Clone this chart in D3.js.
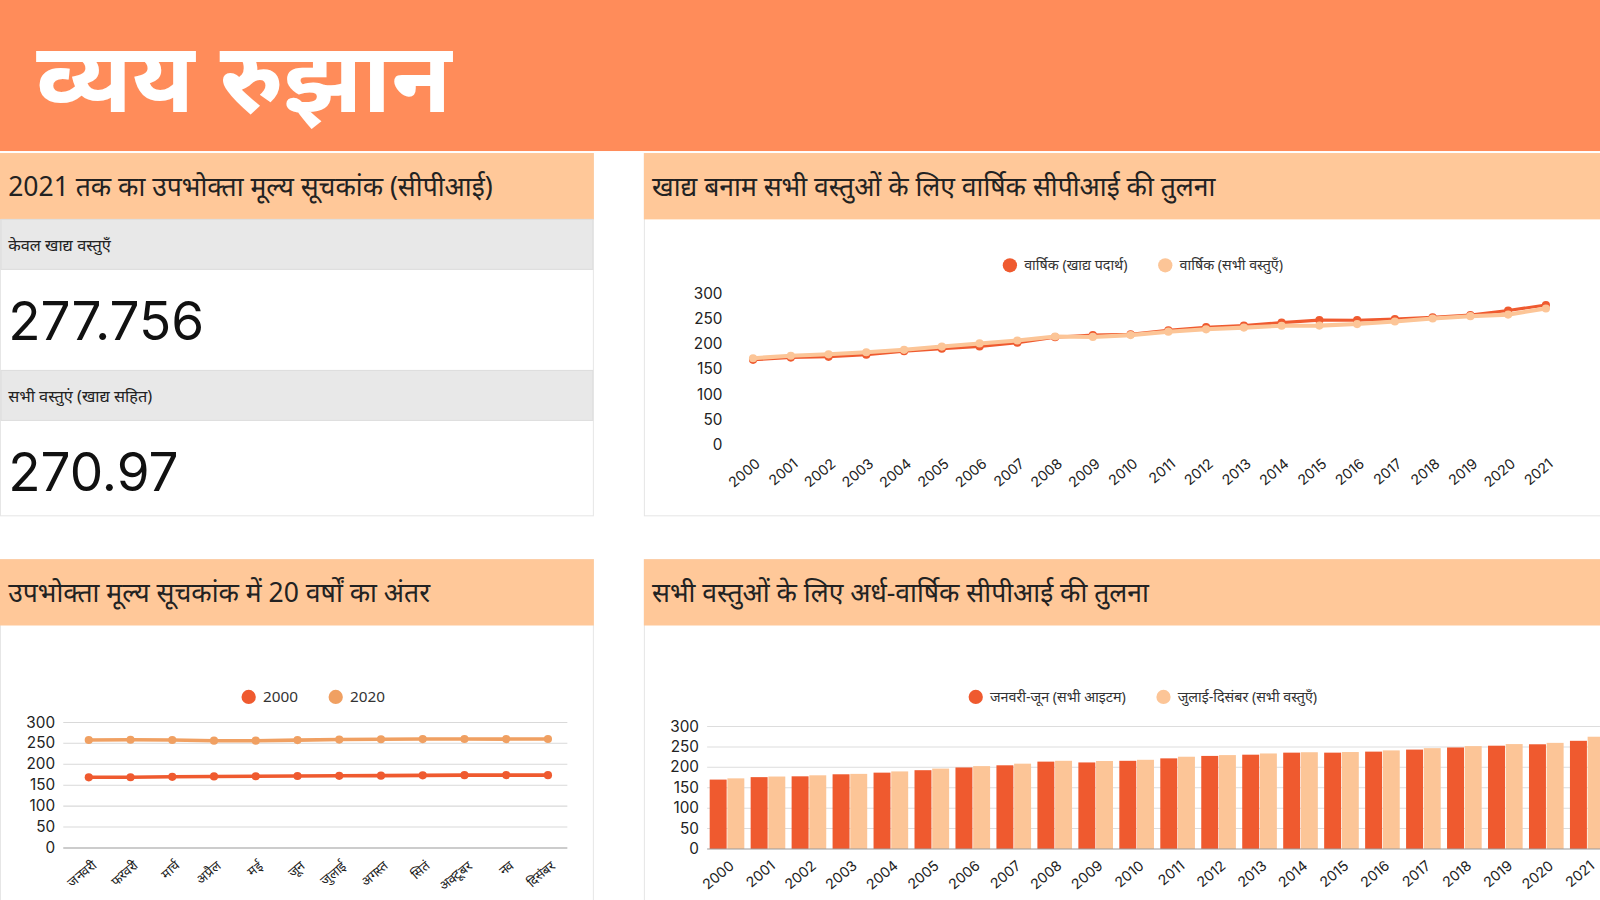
<!DOCTYPE html>
<html><head><meta charset="utf-8">
<script src="https://cdn.jsdelivr.net/npm/d3@7"></script>
<style>
body{margin:0;background:#fff;font-family:"Noto Sans",Inter,sans-serif;overflow:hidden}
svg{display:block}
</style></head>
<body><svg id="c" width="1600" height="900"></svg>
<script>
const years = d3.range(2000, 2022).map(String)
const foodAnnual = [169,173.5,175,179,186,191,195.5,202.9,214,218,219.6,227.8,233.8,237,242.9,247.8,247.7,250,253.5,258,267,277.8]
const allAnnual = [172.2,177.1,179.9,184,188.9,195.3,201.6,207.3,215.3,214.5,218.1,224.9,229.6,233,236.7,237,240,245.1,251.1,255.7,258.8,271]
const months = ["जनवरी","फरवरी","मार्च","अप्रैल","मई","जून","जुलाई","अगस्त","सितं","अक्टूबर","नव","दिसंबर"]
const m2000 = [168.8,169,170,171,171.3,172,172.4,172.8,173.5,174,174.1,174]
const m2020 = [258,258.7,258.1,256.4,256.4,257.8,259.1,259.9,260.3,260.4,260.2,260.5]
const halfJanJun = [170,176,178,183,187,193,199.7,205,214,212,216,222,228,231,236,236,238.5,243.5,248.7,253,256.5,265]
const halfJulDec = [173,177.5,180.5,184,190,197,203,209,216,215.5,218.5,226,230,234,237,237.5,241.5,247,252,257,260,275]
const yTicks = [0,50,100,150,200,250,300]

const dark = "#EF5A2F", light = "#FCC597", mid = "#F0A062"
const root = d3.select("#c")
root.append("rect").attr("width",1600).attr("height",148*1.0204).attr("fill","#FF8C5A")
const svg = root.append("g").attr("transform","scale(1.0204)")

// header
svg.append("text").attr("x",36).attr("y",110).attr("fill","#fff").attr("font-size",96).attr("font-weight",700).text("व्यय रुझान")

function panel(x,y,w,h,title){
  svg.append("rect").attr("x",x+0.5).attr("y",y+0.5).attr("width",w-1).attr("height",h-1).attr("fill","#fff").attr("stroke","#e6e6e6")
  svg.append("rect").attr("x",x).attr("y",y).attr("width",w).attr("height",65).attr("fill","#FFC899")
  svg.append("text").attr("x",x+8).attr("y",y+42).attr("font-size",26).attr("fill","#222").text(title)
}
panel(0,150,582,356,"2021 तक का उपभोक्ता मूल्य सूचकांक (सीपीआई)")
panel(631,150,940,356,"खाद्य बनाम सभी वस्तुओं के लिए वार्षिक सीपीआई की तुलना")
panel(0,548,582,340,"उपभोक्ता मूल्य सूचकांक में 20 वर्षों का अंतर")
panel(631,548,940,340,"सभी वस्तुओं के लिए अर्ध-वार्षिक सीपीआई की तुलना")

// KPI rows
const kpis = [{label:"केवल खाद्य वस्तुएँ", value:"277.756", y:215},{label:"सभी वस्तुएं (खाद्य सहित)", value:"270.97", y:363}]
kpis.forEach(k=>{
  svg.append("rect").attr("x",1).attr("y",k.y).attr("width",580).attr("height",49).attr("fill","#E8E8E8").attr("stroke","#ddd")
  svg.append("text").attr("x",8).attr("y",k.y+31).attr("font-size",16).attr("fill","#222").text(k.label)
  svg.append("text").attr("x",8).attr("y",k.y+118).attr("font-size",52).attr("fill","#111").attr("font-family","Inter,sans-serif").text(k.value)
})

function legend(cx,y,items){
  const g = svg.append("g")
  let x = 0
  items.forEach(it=>{
    const gi = g.append("g").attr("transform",`translate(${x},0)`)
    gi.append("circle").attr("cx",7).attr("cy",0).attr("r",7).attr("fill",it.c)
    const t = gi.append("text").attr("x",21).attr("y",5).attr("font-size",it.fs||14).attr("fill","#333").text(it.t)
    x += 21 + t.node().getComputedTextLength() + 30
  })
  g.attr("transform",`translate(${cx-(x-30)/2},${y})`)
}

function yAxis(y,x0,x1,fs,grid){
  const g = svg.append("g")
  yTicks.forEach(t=>{
    if(grid && t>0) g.append("line").attr("x1",x0).attr("x2",x1).attr("y1",y(t)).attr("y2",y(t)).attr("stroke","#d9d9d9")
    g.append("text").attr("x",x0-(grid?8:28)).attr("y",y(t)+5).attr("text-anchor","end").attr("font-size",fs).attr("fill","#222").attr("font-family","Inter,sans-serif").text(t)
  })
}
function xLabels(x,labels,y0,fs,off){
  labels.forEach(l=>{
    svg.append("text").attr("transform",`translate(${x(l)+(off||0)},${y0}) rotate(-40)`).attr("text-anchor","end").attr("font-size",fs).attr("fill","#222").attr("font-family","Inter,sans-serif").text(l)
  })
}
function lineSeries(x,y,labels,vals,color,w,r){
  svg.append("path").datum(vals).attr("fill","none").attr("stroke",color).attr("stroke-width",w)
    .attr("d",d3.line().x((d,i)=>x(labels[i])).y(d=>y(d)))
  svg.selectAll(null).data(vals).enter().append("circle").attr("cx",(d,i)=>x(labels[i])).attr("cy",d=>y(d)).attr("r",r).attr("fill",color)
}

// chart 1: annual lines
{
  const x = d3.scalePoint().domain(years).range([738,1515])
  const y = d3.scaleLinear().domain([0,300]).range([436,288])
  legend(1120,260,[{t:"वार्षिक (खाद्य पदार्थ)",c:dark},{t:"वार्षिक (सभी वस्तुएँ)",c:light}])
  yAxis(y,736,1515,15,false)
  lineSeries(x,y,years,foodAnnual,dark,3,4)
  lineSeries(x,y,years,allAnnual,light,4,4)
  xLabels(x,years,456,14,8)
}
// chart 2: months
{
  const x = d3.scalePoint().domain(months).range([87,537])
  const y = d3.scaleLinear().domain([0,300]).range([831,708])
  legend(307,683,[{t:"2000",c:dark,fs:15},{t:"2020",c:mid,fs:15}])
  yAxis(y,62,556,15,true)
  svg.append("line").attr("x1",62).attr("x2",556).attr("y1",831).attr("y2",831).attr("stroke","#999")
  lineSeries(x,y,months,m2020,mid,3.5,4)
  lineSeries(x,y,months,m2000,dark,3.5,4)
  xLabels(x,months,850,13,8)
}
// chart 3: half-year bars
{
  const x0 = d3.scaleBand().domain(years).range([694,1574]).paddingInner(0.12).paddingOuter(0.02)
  const x1 = d3.scaleBand().domain(["a","b"]).range([0,x0.bandwidth()]).padding(0.04)
  const y = d3.scaleLinear().domain([0,300]).range([832,712])
  legend(1120,683,[{t:"जनवरी-जून (सभी आइटम)",c:dark},{t:"जुलाई-दिसंबर (सभी वस्तुएँ)",c:light}])
  svg.append("clipPath").attr("id","cp").append("rect").attr("x",631).attr("y",600).attr("width",937).attr("height",300)
  const g = svg.append("g").attr("clip-path","url(#cp)")
  yTicks.forEach(t=>{ if(t>0) g.append("line").attr("x1",693).attr("x2",1568).attr("y1",y(t)).attr("y2",y(t)).attr("stroke","#ddd")})
  yTicks.forEach(t=>svg.append("text").attr("x",685).attr("y",y(t)+5).attr("text-anchor","end").attr("font-size",15).attr("fill","#222").attr("font-family","Inter,sans-serif").text(t))
  years.forEach((yr,i)=>{
    g.append("rect").attr("x",x0(yr)+x1("a")).attr("y",y(halfJanJun[i])).attr("width",x1.bandwidth()).attr("height",832-y(halfJanJun[i])).attr("fill",dark)
    g.append("rect").attr("x",x0(yr)+x1("b")).attr("y",y(halfJulDec[i])).attr("width",x1.bandwidth()).attr("height",832-y(halfJulDec[i])).attr("fill",light)
  })
  g.append("line").attr("x1",693).attr("x2",1568).attr("y1",832).attr("y2",832).attr("stroke","#999")
  const xc = d3.scalePoint().domain(years).range([x0(years[0])+x0.bandwidth()/2, x0(years[21])+x0.bandwidth()/2])
  xLabels(xc,years,850,14,8)
}
</script></body></html>
